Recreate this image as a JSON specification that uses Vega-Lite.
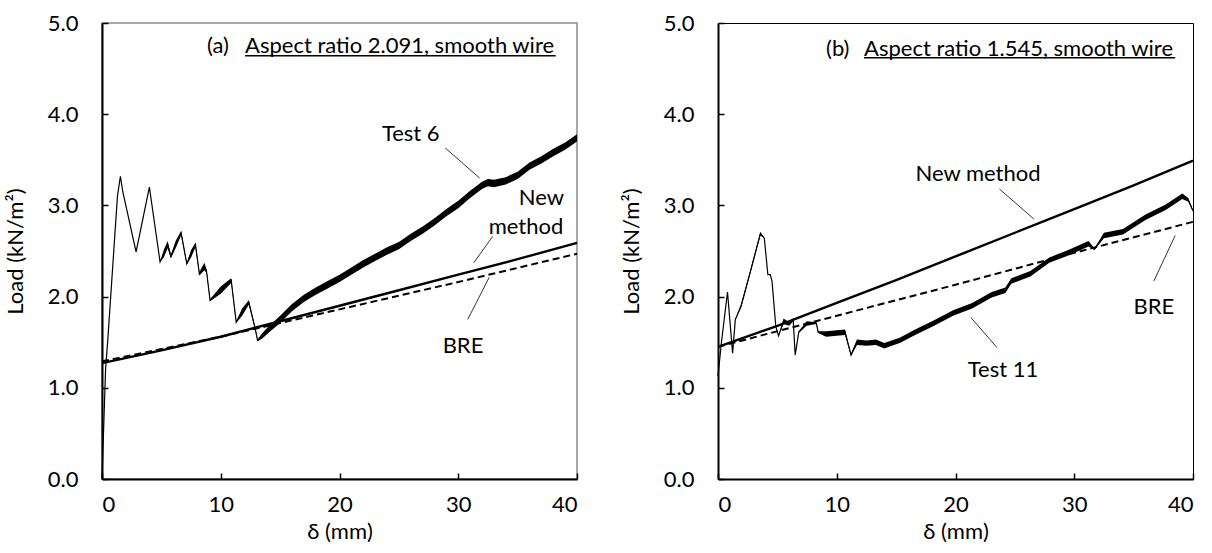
{
  "$schema": "https://vega.github.io/schema/vega-lite/v6.json",
  "background": "white",
  "padding": {"left": 3, "top": 11, "right": 5, "bottom": 2},
  "spacing": 141,
  "bounds": "flush",
  "config": {
    "font": "Lato",
    "view": {"stroke": "#8c8c8c", "strokeWidth": 1.5},
    "axis": {
      "domainColor": "#000", "domainWidth": 2, "tickColor": "#000", "tickWidth": 1.5, "tickSize": -6,
      "labelFont": "Lato", "labelFontSize": 22, "labelColor": "#000",
      "titleFont": "Lato", "titleFontSize": 22, "titleFontWeight": "normal", "titleColor": "#000", "grid": false
    },
    "axisX": {"labelPadding": 21, "titlePadding": 6},
    "axisY": {"labelPadding": 30, "titlePadding": 20},
    "text": {"font": "Lato", "fontSize": 22, "color": "#000"}
  },
  "datasets": {
    "testA": [
      {"d": 0, "y": 0, "lo": 0, "hi": 0},
      {"d": 0.3, "y": 1.2, "lo": 1.2, "hi": 1.2},
      {"d": 0.5, "y": 1.55, "lo": 1.55, "hi": 1.55},
      {"d": 1.3, "y": 3.1, "lo": 3.1, "hi": 3.1},
      {"d": 1.55, "y": 3.32, "lo": 3.32, "hi": 3.32},
      {"d": 1.75, "y": 3.15, "lo": 3.15, "hi": 3.15},
      {"d": 2.87, "y": 2.49, "lo": 2.49, "hi": 2.49},
      {"d": 3.99, "y": 3.2, "lo": 3.2, "hi": 3.2},
      {"d": 4.1, "y": 3.1, "lo": 3.1, "hi": 3.1},
      {"d": 4.89, "y": 2.38, "lo": 2.38, "hi": 2.38},
      {"d": 5.2, "y": 2.47, "lo": 2.43, "hi": 2.51},
      {"d": 5.53, "y": 2.57, "lo": 2.53, "hi": 2.61},
      {"d": 5.8, "y": 2.44, "lo": 2.42, "hi": 2.46},
      {"d": 6.2, "y": 2.57, "lo": 2.53, "hi": 2.61},
      {"d": 6.66, "y": 2.7, "lo": 2.67, "hi": 2.72},
      {"d": 7.14, "y": 2.36, "lo": 2.35, "hi": 2.37},
      {"d": 7.5, "y": 2.47, "lo": 2.43, "hi": 2.51},
      {"d": 7.87, "y": 2.57, "lo": 2.54, "hi": 2.59},
      {"d": 8.2, "y": 2.25, "lo": 2.23, "hi": 2.27},
      {"d": 8.62, "y": 2.33, "lo": 2.29, "hi": 2.37},
      {"d": 8.8, "y": 2.28, "lo": 2.26, "hi": 2.3},
      {"d": 9.1, "y": 1.96, "lo": 1.95, "hi": 1.97},
      {"d": 10.0, "y": 2.07, "lo": 2.03, "hi": 2.11},
      {"d": 10.88, "y": 2.18, "lo": 2.15, "hi": 2.2},
      {"d": 11.3, "y": 1.72, "lo": 1.71, "hi": 1.73},
      {"d": 11.8, "y": 1.83, "lo": 1.79, "hi": 1.87},
      {"d": 12.36, "y": 1.94, "lo": 1.91, "hi": 1.96},
      {"d": 12.9, "y": 1.65, "lo": 1.64, "hi": 1.66},
      {"d": 13.1, "y": 1.52, "lo": 1.51, "hi": 1.53},
      {"d": 13.5, "y": 1.57, "lo": 1.54, "hi": 1.6},
      {"d": 14, "y": 1.63, "lo": 1.6, "hi": 1.67},
      {"d": 15, "y": 1.75, "lo": 1.71, "hi": 1.79},
      {"d": 16, "y": 1.88, "lo": 1.84, "hi": 1.92},
      {"d": 17, "y": 1.98, "lo": 1.94, "hi": 2.02},
      {"d": 18, "y": 2.06, "lo": 2.02, "hi": 2.1},
      {"d": 19, "y": 2.13, "lo": 2.09, "hi": 2.17},
      {"d": 20, "y": 2.2, "lo": 2.16, "hi": 2.24},
      {"d": 21, "y": 2.28, "lo": 2.24, "hi": 2.32},
      {"d": 22, "y": 2.36, "lo": 2.32, "hi": 2.4},
      {"d": 23, "y": 2.43, "lo": 2.39, "hi": 2.47},
      {"d": 24, "y": 2.5, "lo": 2.46, "hi": 2.54},
      {"d": 25, "y": 2.56, "lo": 2.52, "hi": 2.6},
      {"d": 26, "y": 2.65, "lo": 2.61, "hi": 2.69},
      {"d": 27, "y": 2.73, "lo": 2.69, "hi": 2.77},
      {"d": 28, "y": 2.82, "lo": 2.78, "hi": 2.86},
      {"d": 29, "y": 2.92, "lo": 2.88, "hi": 2.96},
      {"d": 30, "y": 3.01, "lo": 2.97, "hi": 3.05},
      {"d": 31, "y": 3.12, "lo": 3.08, "hi": 3.16},
      {"d": 32, "y": 3.22, "lo": 3.18, "hi": 3.26},
      {"d": 32.5, "y": 3.25, "lo": 3.21, "hi": 3.29},
      {"d": 33, "y": 3.24, "lo": 3.2, "hi": 3.28},
      {"d": 34, "y": 3.27, "lo": 3.23, "hi": 3.31},
      {"d": 35, "y": 3.33, "lo": 3.29, "hi": 3.37},
      {"d": 36, "y": 3.43, "lo": 3.39, "hi": 3.47},
      {"d": 37, "y": 3.5, "lo": 3.46, "hi": 3.54},
      {"d": 38, "y": 3.58, "lo": 3.54, "hi": 3.62},
      {"d": 39, "y": 3.65, "lo": 3.61, "hi": 3.69},
      {"d": 40, "y": 3.74, "lo": 3.7, "hi": 3.78}
    ],
    "newA": [
      {"d": 0, "y": 1.27}, {"d": 5, "y": 1.41}, {"d": 10, "y": 1.56}, {"d": 15, "y": 1.73},
      {"d": 20, "y": 1.9}, {"d": 25, "y": 2.07}, {"d": 30, "y": 2.24}, {"d": 35, "y": 2.41}, {"d": 40, "y": 2.59}
    ],
    "breA": [
      {"d": 0, "y": 1.29}, {"d": 10, "y": 1.56}, {"d": 20, "y": 1.86}, {"d": 30, "y": 2.16}, {"d": 40, "y": 2.47}
    ],
    "labA": [
      {"t": "Test 6", "d": 26.0, "y": 3.78},
      {"t": "New", "d": 37.0, "y": 3.08},
      {"t": "method", "d": 35.7, "y": 2.76},
      {"t": "BRE", "d": 30.4, "y": 1.46}
    ],
    "leadA": [
      {"d": 28.9, "y": 3.63, "d2": 31.8, "y2": 3.3},
      {"d": 32.9, "y": 2.66, "d2": 31.3, "y2": 2.37},
      {"d": 30.8, "y": 1.75, "d2": 32.6, "y2": 2.21}
    ],
    "headA": [
      {"t": "(a)", "d": 8.84, "y": 4.75},
      {"t": "Aspect ratio 2.091, smooth wire", "d": 12.05, "y": 4.75}
    ],
    "ulA": [{"d": 12.05, "d2": 38.2, "y": 4.64}],
    "testB": [
      {"d": 0, "y": 1.13, "lo": 1.13, "hi": 1.13},
      {"d": 0.3, "y": 1.51, "lo": 1.51, "hi": 1.51},
      {"d": 0.8, "y": 2.05, "lo": 2.05, "hi": 2.05},
      {"d": 1.23, "y": 1.38, "lo": 1.38, "hi": 1.38},
      {"d": 1.46, "y": 1.75, "lo": 1.75, "hi": 1.75},
      {"d": 1.95, "y": 1.9, "lo": 1.88, "hi": 1.92},
      {"d": 2.76, "y": 2.29, "lo": 2.27, "hi": 2.31},
      {"d": 3.57, "y": 2.69, "lo": 2.67, "hi": 2.71},
      {"d": 3.9, "y": 2.64, "lo": 2.64, "hi": 2.64},
      {"d": 4.2, "y": 2.24, "lo": 2.24, "hi": 2.24},
      {"d": 4.4, "y": 2.24, "lo": 2.24, "hi": 2.24},
      {"d": 4.55, "y": 2.17, "lo": 2.17, "hi": 2.17},
      {"d": 4.87, "y": 1.67, "lo": 1.67, "hi": 1.67},
      {"d": 5.1, "y": 1.57, "lo": 1.57, "hi": 1.57},
      {"d": 5.52, "y": 1.73, "lo": 1.7, "hi": 1.76},
      {"d": 6.0, "y": 1.7, "lo": 1.68, "hi": 1.72},
      {"d": 6.33, "y": 1.75, "lo": 1.73, "hi": 1.76},
      {"d": 6.5, "y": 1.36, "lo": 1.36, "hi": 1.36},
      {"d": 6.8, "y": 1.61, "lo": 1.6, "hi": 1.62},
      {"d": 7.47, "y": 1.71, "lo": 1.68, "hi": 1.73},
      {"d": 8.28, "y": 1.71, "lo": 1.7, "hi": 1.72},
      {"d": 8.44, "y": 1.61, "lo": 1.6, "hi": 1.62},
      {"d": 9.1, "y": 1.59, "lo": 1.56, "hi": 1.62},
      {"d": 10.0, "y": 1.6, "lo": 1.57, "hi": 1.63},
      {"d": 10.7, "y": 1.61, "lo": 1.58, "hi": 1.64},
      {"d": 11.2, "y": 1.36, "lo": 1.35, "hi": 1.37},
      {"d": 11.7, "y": 1.5, "lo": 1.47, "hi": 1.53},
      {"d": 12.5, "y": 1.49, "lo": 1.46, "hi": 1.52},
      {"d": 13.3, "y": 1.5, "lo": 1.47, "hi": 1.53},
      {"d": 14, "y": 1.46, "lo": 1.43, "hi": 1.49},
      {"d": 15.3, "y": 1.52, "lo": 1.49, "hi": 1.55},
      {"d": 16.6, "y": 1.61, "lo": 1.58, "hi": 1.64},
      {"d": 18.2, "y": 1.71, "lo": 1.68, "hi": 1.74},
      {"d": 19.8, "y": 1.82, "lo": 1.79, "hi": 1.85},
      {"d": 21.4, "y": 1.9, "lo": 1.87, "hi": 1.93},
      {"d": 23.05, "y": 2.02, "lo": 1.99, "hi": 2.05},
      {"d": 24.2, "y": 2.07, "lo": 2.04, "hi": 2.1},
      {"d": 24.7, "y": 2.17, "lo": 2.14, "hi": 2.2},
      {"d": 26.3, "y": 2.25, "lo": 2.22, "hi": 2.28},
      {"d": 27.9, "y": 2.4, "lo": 2.37, "hi": 2.43},
      {"d": 29.5, "y": 2.48, "lo": 2.45, "hi": 2.51},
      {"d": 31.2, "y": 2.58, "lo": 2.55, "hi": 2.61},
      {"d": 31.7, "y": 2.52, "lo": 2.51, "hi": 2.53},
      {"d": 32.5, "y": 2.67, "lo": 2.64, "hi": 2.7},
      {"d": 34.1, "y": 2.71, "lo": 2.68, "hi": 2.74},
      {"d": 36.0, "y": 2.87, "lo": 2.84, "hi": 2.9},
      {"d": 37.7, "y": 2.98, "lo": 2.95, "hi": 3.01},
      {"d": 39.1, "y": 3.1, "lo": 3.07, "hi": 3.13},
      {"d": 39.6, "y": 3.06, "lo": 3.04, "hi": 3.08},
      {"d": 40, "y": 2.94, "lo": 2.93, "hi": 2.95}
    ],
    "newB": [
      {"d": 0, "y": 1.45}, {"d": 5, "y": 1.68}, {"d": 10, "y": 1.93}, {"d": 15, "y": 2.18},
      {"d": 20, "y": 2.44}, {"d": 25, "y": 2.7}, {"d": 30, "y": 2.96}, {"d": 35, "y": 3.22}, {"d": 40, "y": 3.49}
    ],
    "breB": [
      {"d": 0, "y": 1.45}, {"d": 10, "y": 1.79}, {"d": 20, "y": 2.13}, {"d": 30, "y": 2.48}, {"d": 40, "y": 2.82}
    ],
    "labB": [
      {"t": "New method", "d": 21.9, "y": 3.34},
      {"t": "Test 11", "d": 24.0, "y": 1.19},
      {"t": "BRE", "d": 36.7, "y": 1.89}
    ],
    "leadB": [
      {"d": 23.7, "y": 3.18, "d2": 26.6, "y2": 2.85},
      {"d": 23.5, "y": 1.44, "d2": 21.3, "y2": 1.77},
      {"d": 36.7, "y": 2.17, "d2": 38.5, "y2": 2.67}
    ],
    "headB": [
      {"t": "(b)", "d": 9.1, "y": 4.72},
      {"t": "Aspect ratio 1.545, smooth wire", "d": 12.3, "y": 4.72}
    ],
    "ulB": [{"d": 12.3, "d2": 38.5, "y": 4.62}]
  },
  "hconcat": [
    {
      "width": 475,
      "height": 456,
      "view": {"stroke": "#8c8c8c", "strokeWidth": 1.5},
      "encoding": {
        "x": {"field": "d", "type": "quantitative", "scale": {"domain": [0, 40], "nice": false},
              "axis": {"values": [0, 10, 20, 30, 40], "title": "δ (mm)"}},
        "y": {"field": "y", "type": "quantitative", "scale": {"domain": [0, 5], "nice": false},
              "axis": {"values": [0, 1, 2, 3, 4, 5], "format": ".1f", "title": "Load (kN/m²)"}}
      },
      "layer": [
        {"data": {"name": "testA"}, "mark": {"type": "area", "color": "#000", "opacity": 1},
         "encoding": {"y": {"field": "lo", "type": "quantitative", "title": "Load (kN/m²)"}, "y2": {"field": "hi"}}},
        {"data": {"name": "testA"}, "mark": {"type": "line", "color": "#000", "strokeWidth": 1.2}, "encoding": {}},
        {"data": {"name": "newA"}, "mark": {"type": "line", "color": "#000", "strokeWidth": 2.4}, "encoding": {}},
        {"data": {"name": "breA"}, "mark": {"type": "line", "color": "#000", "strokeWidth": 2, "strokeDash": [7, 4]}, "encoding": {}},
        {"data": {"name": "leadA"}, "mark": {"type": "rule", "color": "#000", "strokeWidth": 0.8},
         "encoding": {"x2": {"field": "d2"}, "y2": {"field": "y2"}}},
        {"data": {"name": "labA"}, "mark": {"type": "text", "align": "center", "baseline": "middle"},
         "encoding": {"text": {"field": "t"}}},
        {"data": {"name": "headA"}, "mark": {"type": "text", "align": "left", "baseline": "middle"},
         "encoding": {"text": {"field": "t"}}},
        {"data": {"name": "ulA"}, "mark": {"type": "rule", "color": "#000", "strokeWidth": 1.5},
         "encoding": {"x2": {"field": "d2"}}}
      ]
    },
    {
      "width": 475,
      "height": 456,
      "view": {"stroke": "#000", "strokeWidth": 1},
      "encoding": {
        "x": {"field": "d", "type": "quantitative", "scale": {"domain": [0, 40], "nice": false},
              "axis": {"values": [0, 10, 20, 30, 40], "title": "δ (mm)"}},
        "y": {"field": "y", "type": "quantitative", "scale": {"domain": [0, 5], "nice": false},
              "axis": {"values": [0, 1, 2, 3, 4, 5], "format": ".1f", "title": "Load (kN/m²)"}}
      },
      "layer": [
        {"data": {"name": "testB"}, "mark": {"type": "area", "color": "#000", "opacity": 1},
         "encoding": {"y": {"field": "lo", "type": "quantitative", "title": "Load (kN/m²)"}, "y2": {"field": "hi"}}},
        {"data": {"name": "testB"}, "mark": {"type": "line", "color": "#000", "strokeWidth": 1.2}, "encoding": {}},
        {"data": {"name": "newB"}, "mark": {"type": "line", "color": "#000", "strokeWidth": 2.4}, "encoding": {}},
        {"data": {"name": "breB"}, "mark": {"type": "line", "color": "#000", "strokeWidth": 2, "strokeDash": [7, 4]}, "encoding": {}},
        {"data": {"name": "leadB"}, "mark": {"type": "rule", "color": "#000", "strokeWidth": 0.8},
         "encoding": {"x2": {"field": "d2"}, "y2": {"field": "y2"}}},
        {"data": {"name": "labB"}, "mark": {"type": "text", "align": "center", "baseline": "middle"},
         "encoding": {"text": {"field": "t"}}},
        {"data": {"name": "headB"}, "mark": {"type": "text", "align": "left", "baseline": "middle"},
         "encoding": {"text": {"field": "t"}}},
        {"data": {"name": "ulB"}, "mark": {"type": "rule", "color": "#000", "strokeWidth": 1.5},
         "encoding": {"x2": {"field": "d2"}}}
      ]
    }
  ]
}
